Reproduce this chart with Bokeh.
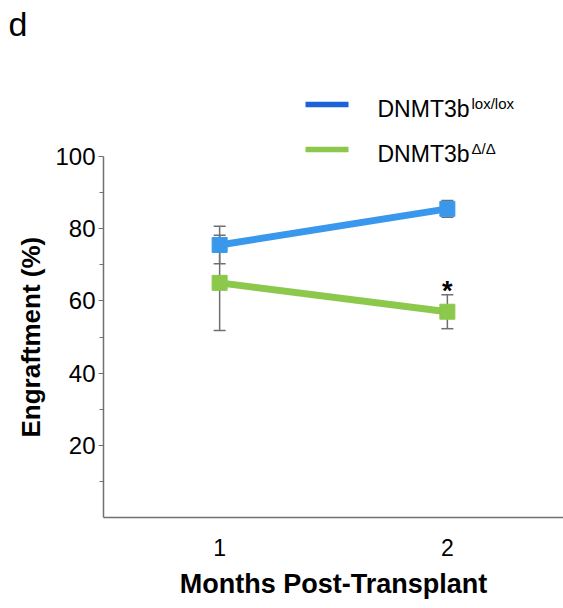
from bokeh.plotting import figure
from bokeh.models import (Range1d, LinearAxis, FixedTicker, Whisker, TeeHead, ColumnDataSource,
                          Label, BoxAnnotation, Title)
from bokeh.core.properties import value
from bokeh.embed import file_html
from bokeh.resources import INLINE

# ---- data ----
months = [1, 2]
month_labels = ["1", "2"]
lox_mean = [75.5, 85.5]
lox_err = [5.2, 2.3]
del_mean = [65.0, 57.0]
del_err = [13.2, 4.7]
y_ticks = [20, 40, 60, 80, 100]
y_minor = [10, 30, 50, 70, 90]
sig_month = [2]
sig_text = ["*"]

FONT = "Liberation Sans"
BLUE = "#3a98ec"
GREEN = "#8cc84b"
LEG_BLUE = "#1c63d9"
LEG_GREEN = "#8cc84b"
GREY = "#707070"

W, H = 563, 608
F_LEFT, F_TOP, F_BOTTOM = 103, 42, 517
Y100 = 156
y_end = 100.0 * (F_BOTTOM - F_TOP) / (F_BOTTOM - Y100)

p = figure(width=W, height=H, output_backend="svg", toolbar_location=None,
           x_range=Range1d(0.49, 2.51), y_range=Range1d(0, y_end),
           x_axis_type=None, y_axis_type=None,
           min_border_left=F_LEFT, min_border_right=0, min_border_top=F_TOP,
           min_border_bottom=H - F_BOTTOM)
p.outline_line_color = None
p.grid.visible = False
p.background_fill_color = "white"
p.border_fill_color = "white"

# panel letter as title
p.title.text = "d"
p.title.text_font = FONT
p.title.text_font_size = "34px"
p.title.text_font_style = "normal"
p.title.text_color = "black"
p.title.align = "left"
p.title.offset = 8 - F_LEFT
p.title.standoff = 0

# axes
yax = LinearAxis(bounds=(0, 100), ticker=FixedTicker(ticks=y_ticks, minor_ticks=y_minor))
yax.major_label_text_font = FONT
yax.major_label_text_font_size = "24px"
yax.major_label_text_color = "black"
yax.major_label_standoff = 3
yax.axis_line_color = GREY
yax.axis_line_width = 1.5
yax.major_tick_line_color = GREY
yax.minor_tick_line_color = GREY
yax.major_tick_in = 0
yax.major_tick_out = 5
yax.minor_tick_in = 0
yax.minor_tick_out = 4
p.add_layout(yax, "left")

ytitle = Title(text="Engraftment (%)", align="left", offset=80, text_font=FONT,
               text_font_size="26px", text_font_style="bold", text_color="black",
               standoff=14)
p.add_layout(ytitle, "left")

xax = LinearAxis(ticker=FixedTicker(ticks=months, minor_ticks=[]))
xax.major_label_overrides = {m: l for m, l in zip(months, month_labels)}
xax.axis_label = "Months Post-Transplant"
xax.axis_label_text_font = FONT
xax.axis_label_text_font_style = "bold"
xax.axis_label_text_font_size = "27px"
xax.axis_label_text_color = "black"
xax.axis_label_standoff = 10
xax.major_label_text_font = FONT
xax.major_label_text_font_size = "23px"
xax.major_label_text_color = "black"
xax.major_label_standoff = 15
xax.axis_line_color = GREY
xax.axis_line_width = 1.5
xax.major_tick_line_color = None
xax.minor_tick_line_color = None
p.add_layout(xax, "below")

# series
src_lox = ColumnDataSource(dict(x=months, y=lox_mean,
                                lo=[m - e for m, e in zip(lox_mean, lox_err)],
                                hi=[m + e for m, e in zip(lox_mean, lox_err)]))
src_del = ColumnDataSource(dict(x=months, y=del_mean,
                                lo=[m - e for m, e in zip(del_mean, del_err)],
                                hi=[m + e for m, e in zip(del_mean, del_err)]))

for src, col in ((src_lox, BLUE), (src_del, GREEN)):
    p.line("x", "y", source=src, line_color=col, line_width=7)
    p.scatter("x", "y", source=src, marker="square", size=15, fill_color=col, line_color=col)

for src in (src_lox, src_del):
    w = Whisker(source=src, base="x", upper="hi", lower="lo", line_color=GREY, line_width=1.5,
                upper_head=TeeHead(size=12, line_color=GREY, line_width=1.5),
                lower_head=TeeHead(size=12, line_color=GREY, line_width=1.5))
    p.add_layout(w)

# significance asterisk above upper error bar
sig_y = [del_mean[months.index(m)] + del_err[months.index(m)] for m in sig_month]
p.text(x=sig_month, y=sig_y, text=sig_text, text_font=value(FONT), text_font_style="bold",
       text_font_size="27px", text_align="center", text_baseline="alphabetic",
       y_offset=-4, text_color="black")

# legend (manual, with superscripts)
def leg_entry(y_line, color, sup):
    p.add_layout(BoxAnnotation(left=305 - F_LEFT, right=348 - F_LEFT,
                               bottom=F_BOTTOM - y_line - 2.8, top=F_BOTTOM - y_line + 2.8,
                               left_units="screen", right_units="screen",
                               top_units="screen", bottom_units="screen",
                               fill_color=color, fill_alpha=1, line_color=None))
    base = y_line + 4.5
    p.add_layout(Label(x=377 - F_LEFT, y=F_BOTTOM - base, x_units="screen", y_units="screen",
                       text="DNMT3b", text_font=FONT, text_font_size="23px",
                       text_color="black", text_baseline="alphabetic"))
    p.add_layout(Label(x=471 - F_LEFT, y=F_BOTTOM - base + 6, x_units="screen", y_units="screen",
                       text=sup, text_font=FONT, text_font_size="15px",
                       text_color="black", text_baseline="alphabetic"))

leg_entry(104, LEG_BLUE, "lox/lox")
leg_entry(149, LEG_GREEN, "\u0394/\u0394")

open("out.html", "w").write(file_html(p, INLINE))
